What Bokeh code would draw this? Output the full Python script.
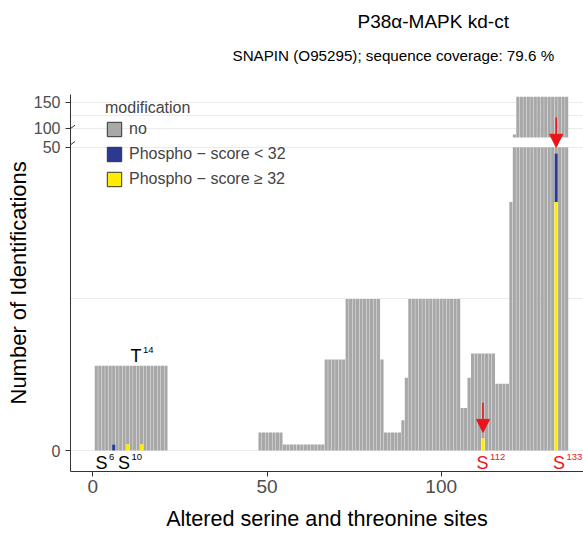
import numpy as np
from bokeh.plotting import figure
from bokeh.models import (ColumnDataSource, Range1d, FixedTicker, CustomJSTickFormatter,
                          Legend, LegendItem, Title, Arrow, NormalHead)
from bokeh.core.properties import value
from bokeh.embed import file_html
from bokeh.resources import INLINE

# ---------------- data ----------------
title_top = "P38α-MAPK kd-ct"
title_sub = "SNAPIN (O95295); sequence coverage: 79.6 %"
x_title = "Altered serine and threonine sites"
y_title = "Number of Identifications"

residues = list(range(1, 137))
# total number of identifications covering each residue (1..136)
total_ids = [
    14, 14, 14, 14, 14, 14, 14, 14, 14, 14, 14, 14, 14, 14, 14, 14, 14, 14, 14, 14, 14,
    0, 0, 0, 0, 0, 0, 0, 0, 0, 0, 0, 0, 0, 0, 0, 0, 0, 0, 0, 0, 0, 0, 0, 0, 0, 0,
    3, 3, 3, 3, 3, 3, 3,
    1, 1, 1, 1, 1, 1, 1, 1, 1, 1, 1, 1,
    15, 15, 15, 15, 15, 15,
    25, 25, 25, 25, 25, 25, 25, 25, 25, 25,
    15,
    3, 3, 3, 3, 3,
    5,
    12,
    25, 25, 25, 25, 25, 25, 25, 25, 25, 25, 25, 25, 25, 25, 25,
    7, 7,
    12,
    16, 16, 16, 16, 16, 16, 16,
    11, 11, 11, 11,
    41,
    88,
    161, 161, 161, 161, 161, 161, 161, 161, 161, 161, 161, 161, 161, 161, 161,
]

site_pos = [6, 10, 14, 112, 133]
site_aa = ["S", "S", "T", "S", "S"]
phospho_low = [1, 0, 0, 0, 8]      # Phospho - score < 32
phospho_high = [0, 1, 1, 2, 41]    # Phospho - score >= 32
highlighted = [112, 133]

legend_labels = ["no", "Phospho \u2212 score < 32", "Phospho \u2212 score \u2265 32"]
x_ticks = [0, 50, 100]
y_ticks = [0, 50, 100, 150]
y_minor = [25, 125]

# ---------------- styling / layout ----------------
FONT = "Liberation Sans"
C_NO, C_LOW, C_HIGH = "#A8A8A8", "#2B3A8F", "#FFEC00"
RED = "#E8161B"
LOWER_MAX = 50.0          # top of lower panel (value)
UPPER_MIN = 82.6          # bottom of upper panel (value)
UPPER_BASE = 51.64        # display position of UPPER_MIN
UPPER_K = 0.0855          # compression of upper panel


def disp(v):
    v = float(v)
    if v <= LOWER_MAX:
        return v
    return UPPER_BASE + (v - UPPER_MIN) * UPPER_K


def split(b, t):
    parts = []
    lb, lt = max(b, 0.0), min(t, LOWER_MAX)
    if lt > lb:
        parts.append((lb, lt))
    if t > UPPER_MIN:
        ub = max(b, UPPER_MIN)
        parts.append((disp(ub), disp(t)))
    return parts


lo_map = dict(zip(site_pos, phospho_low))
hi_map = dict(zip(site_pos, phospho_high))
segs = {"no": ([], [], []), "low": ([], [], []), "high": ([], [], [])}
for r, tot in zip(residues, total_ids):
    h = hi_map.get(r, 0)
    l = lo_map.get(r, 0)
    stack = [("high", 0, h), ("low", h, h + l), ("no", h + l, tot)]
    for key, b, t in stack:
        if t <= b:
            continue
        for pb, pt in split(b, t):
            segs[key][0].append(r)
            segs[key][1].append(pb)
            segs[key][2].append(pt)

W, H = 583, 533
Y0, Y1 = -3.45, 62.67
p = figure(width=W, height=H, output_backend="svg", toolbar_location=None,
           x_range=Range1d(-6.4, 140.84), y_range=Range1d(Y0, Y1),
           min_border_left=70, min_border_right=0, min_border_top=70, min_border_bottom=61)
p.outline_line_color = None
p.background_fill_color = "white"
p.border_fill_color = "white"

BW = 0.9
colors = {"no": C_NO, "low": C_LOW, "high": C_HIGH}
for key in ["no", "low", "high"]:
    xs, bs, ts = segs[key]
    src = ColumnDataSource(dict(x=xs, bottom=bs, top=ts))
    p.vbar(x="x", bottom="bottom", top="top", width=BW, source=src,
           fill_color=colors[key], line_color=None)

# axes
p.xaxis.ticker = FixedTicker(ticks=x_ticks)
p.yaxis.ticker = FixedTicker(ticks=[disp(v) for v in y_ticks],
                             minor_ticks=[disp(v) for v in y_minor])
p.yaxis.formatter = CustomJSTickFormatter(
    args=dict(lo=LOWER_MAX, hi=UPPER_MIN, base=UPPER_BASE, k=UPPER_K),
    code="return (tick <= lo ? tick : hi + (tick - base) / k).toFixed(0);")
p.yaxis.bounds = (Y0, 58.7)
for ax in (p.xaxis[0], p.yaxis[0]):
    ax.axis_line_color = "#333333"
    ax.axis_line_width = 1
    ax.major_tick_line_color = "#333333"
    ax.major_tick_out = 5
    ax.major_tick_in = 0
    ax.minor_tick_line_color = None
    ax.major_label_text_color = "#4D4D4D"
    ax.major_label_text_font = FONT
    ax.axis_label_text_font = FONT
    ax.axis_label_text_font_style = "normal"
    ax.axis_label_text_color = "black"
p.xaxis.major_label_text_font_size = "19px"
p.yaxis.major_label_text_font_size = "16px"
p.xaxis.axis_label = x_title
p.xaxis.axis_label_text_font_size = "21.6px"
p.xaxis.major_label_standoff = 3
p.xaxis.axis_label_standoff = 10
p.yaxis.major_label_standoff = 5

p.xgrid.visible = False
p.ygrid.grid_line_color = "#EBEBEB"
p.ygrid.minor_grid_line_color = "#EBEBEB"

# y title as a left-side title (positioned like the reference, below the frame centre)
p.add_layout(Title(text=y_title, align="left", offset=67, standoff=0,
                   text_font=FONT, text_font_size="22px", text_font_style="normal",
                   text_color="black"), "left")

# axis break marks (screen units, relative to the plot frame)
for sy in (343.0, 326.7):
    p.add_layout(Arrow(x_start=-4.5, y_start=sy - 3.3, x_end=4.5, y_end=sy + 3.3,
                       start_units="screen", end_units="screen", end=None,
                       line_color="#333333", line_width=1))

# red arrows at highlighted sites
ax_x, ax_y0, ax_y1 = [], [], []
for s, l, h in zip(site_pos, phospho_low, phospho_high):
    if s in highlighted:
        tip = disp(l + h) + 1.0
        ax_x.append(s)
        ax_y0.append(tip + 4.9)
        ax_y1.append(tip)
p.add_layout(Arrow(source=ColumnDataSource(dict(x0=ax_x, y0=ax_y0, x1=ax_x, y1=ax_y1)),
                   x_start="x0", y_start="y0", x_end="x1", y_end="y1",
                   line_color=RED, line_width=1.6,
                   end=NormalHead(size=13, fill_color=RED, line_color=RED, line_width=1)))

# site labels (letter + superscript position)
label_nudge = {6: (-1.8, "bottom"), 10: (0.7, "bottom"), 14: (0.0, "top"),
               112: (1.6, "bottom"), 133: (2.5, "bottom")}
lx, ly, lt, ln, lc, lyo, lyo2 = [], [], [], [], [], [], []
for s, aa in zip(site_pos, site_aa):
    dx, where = label_nudge[s]
    tot = total_ids[residues.index(s)]
    lx.append(s + dx)
    if where == "top":
        ly.append(disp(tot)); lyo.append(-10)
    else:
        ly.append(0.0); lyo.append(12)
    lyo2.append(lyo[-1] - 6)
    lt.append(aa)
    ln.append(str(s))
    lc.append(RED if s in highlighted else "black")
lsrc = ColumnDataSource(dict(x=lx, y=ly, t=lt, n=ln, c=lc, yo=lyo, yo2=lyo2))
p.text(x="x", y="y", text="t", source=lsrc, text_color="c", text_align="right",
       text_baseline="middle", y_offset="yo", text_font=value(FONT), text_font_size="18px")
p.text(x="x", y="y", text="n", source=lsrc, text_color="c", text_align="left",
       text_baseline="middle", y_offset="yo2", x_offset=1.5, text_font=value(FONT),
       text_font_size="9.5px")

# legend (dummy renderers placed far outside the visible range)
dummies = []
for c in (C_NO, C_LOW, C_HIGH):
    dummies.append(p.vbar(x=[-1000], top=[1], width=1, fill_color=c,
                          line_color="#333333", line_width=1))
legend = Legend(items=[LegendItem(label=lab, renderers=[r]) for lab, r in zip(legend_labels, dummies)],
                location=(35, 283), title="modification", padding=0, margin=0,
                background_fill_alpha=0, border_line_color=None,
                glyph_width=18, glyph_height=18, label_height=18, spacing=7,
                label_standoff=6, label_text_font=FONT, label_text_font_size="16px",
                title_text_font=FONT, title_text_font_size="16px",
                title_text_font_style="normal", title_standoff=3)
p.add_layout(legend)

# titles (the one added last sits furthest from the frame)
p.title.visible = False
p.add_layout(Title(text=title_sub, align="left", offset=162, standoff=14,
                   text_font=FONT, text_font_size="15.2px", text_font_style="normal",
                   text_color="black"), "above")
p.add_layout(Title(text=title_top, align="left", offset=287, standoff=12,
                   text_font=FONT, text_font_size="19px", text_font_style="normal",
                   text_color="black"), "above")

open("out.html", "w").write(file_html(p, INLINE))
